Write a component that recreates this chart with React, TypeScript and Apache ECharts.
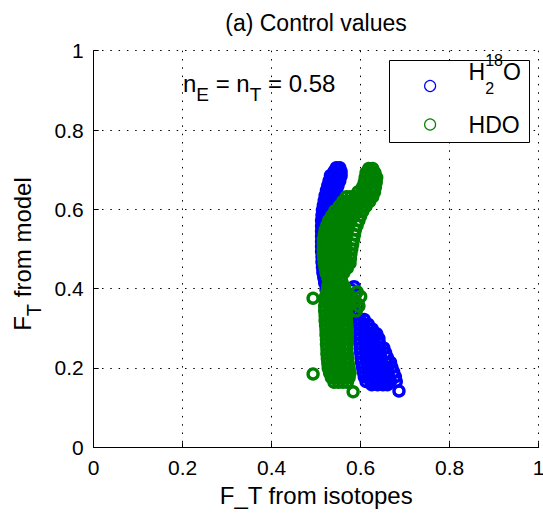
import React, { useEffect, useRef } from "react";
import * as echarts from "echarts";

// H2(18)O rows: [F_T from model, [F_T from isotopes values on that row]]
const BLUE_ROWS: [number, number[]][] = [
  [0.705, [0.545, 0.553]],
  [0.695, [0.54, 0.548, 0.556]],
  [0.685, [0.532, 0.54, 0.548, 0.556]],
  [0.672, [0.529, 0.537, 0.545, 0.553]],
  [0.66, [0.526, 0.534, 0.542, 0.549]],
  [0.648, [0.523, 0.531, 0.539, 0.546]],
  [0.635, [0.52, 0.528, 0.536, 0.544]],
  [0.622, [0.518, 0.526, 0.534, 0.542]],
  [0.61, [0.516, 0.524, 0.532, 0.54]],
  [0.598, [0.514, 0.522, 0.53, 0.538]],
  [0.585, [0.513, 0.521, 0.529]],
  [0.572, [0.512, 0.52, 0.528]],
  [0.558, [0.512, 0.52, 0.528]],
  [0.545, [0.512, 0.52, 0.528]],
  [0.532, [0.512, 0.52]],
  [0.519, [0.512, 0.52]],
  [0.506, [0.512, 0.52]],
  [0.493, [0.512, 0.52]],
  [0.48, [0.513, 0.521]],
  [0.467, [0.513, 0.521]],
  [0.454, [0.514, 0.522]],
  [0.441, [0.515, 0.525]],
  [0.428, [0.517, 0.528]],
  [0.415, [0.519, 0.53]],
  [0.405, [0.585]],
  [0.398, [0.522, 0.534, 0.578]],
  [0.385, [0.524, 0.538, 0.588]],
  [0.372, [0.526, 0.54, 0.57, 0.582]],
  [0.36, [0.528, 0.545, 0.565, 0.594]],
  [0.348, [0.56, 0.575]],
  [0.335, [0.572, 0.583]],
  [0.322, [0.59, 0.598, 0.608]],
  [0.31, [0.597, 0.607, 0.617]],
  [0.298, [0.597, 0.607, 0.618, 0.626]],
  [0.286, [0.597, 0.607, 0.618, 0.628, 0.636]],
  [0.274, [0.597, 0.608, 0.619, 0.63, 0.641]],
  [0.262, [0.598, 0.609, 0.62, 0.631, 0.642]],
  [0.25, [0.599, 0.61, 0.621, 0.632, 0.643, 0.652]],
  [0.238, [0.6, 0.611, 0.622, 0.633, 0.644, 0.656]],
  [0.226, [0.601, 0.612, 0.623, 0.634, 0.645, 0.66]],
  [0.214, [0.602, 0.613, 0.624, 0.635, 0.646, 0.657, 0.667]],
  [0.202, [0.604, 0.615, 0.626, 0.637, 0.648, 0.659, 0.67]],
  [0.19, [0.606, 0.617, 0.628, 0.639, 0.65, 0.661, 0.674]],
  [0.178, [0.608, 0.619, 0.63, 0.641, 0.652, 0.663, 0.678]],
  [0.166, [0.612, 0.623, 0.634, 0.645, 0.656, 0.667, 0.68]],
  [0.158, [0.625, 0.638, 0.65, 0.66]],
  [0.142, [0.686]],
];

// HDO rows: [F_T from model, [F_T from isotopes values on that row]]
const GREEN_ROWS: [number, number[]][] = [
  [0.703, [0.618, 0.627]],
  [0.692, [0.612, 0.622, 0.632]],
  [0.68, [0.61, 0.62, 0.63, 0.636]],
  [0.668, [0.608, 0.618, 0.628, 0.635]],
  [0.656, [0.604, 0.614, 0.624, 0.633]],
  [0.644, [0.594, 0.604, 0.614, 0.624, 0.631]],
  [0.632, [0.568, 0.578, 0.588, 0.598, 0.608, 0.618, 0.627]],
  [0.62, [0.56, 0.57, 0.58, 0.59, 0.6, 0.61, 0.62]],
  [0.608, [0.552, 0.562, 0.572, 0.582, 0.592, 0.602, 0.612]],
  [0.596, [0.542, 0.552, 0.562, 0.572, 0.582, 0.592, 0.605]],
  [0.584, [0.535, 0.545, 0.555, 0.565, 0.575, 0.585, 0.6]],
  [0.572, [0.528, 0.538, 0.548, 0.558, 0.568, 0.578, 0.596]],
  [0.56, [0.524, 0.534, 0.544, 0.554, 0.564, 0.574, 0.592]],
  [0.548, [0.52, 0.53, 0.54, 0.55, 0.56, 0.57, 0.588]],
  [0.536, [0.518, 0.528, 0.538, 0.548, 0.558, 0.568, 0.586]],
  [0.524, [0.516, 0.526, 0.536, 0.546, 0.556, 0.566, 0.584]],
  [0.512, [0.516, 0.526, 0.536, 0.546, 0.556, 0.566, 0.582]],
  [0.5, [0.516, 0.526, 0.536, 0.546, 0.556, 0.568, 0.58]],
  [0.488, [0.516, 0.526, 0.536, 0.546, 0.556, 0.566, 0.578]],
  [0.476, [0.517, 0.527, 0.537, 0.547, 0.557, 0.567, 0.577]],
  [0.464, [0.518, 0.528, 0.538, 0.548, 0.558, 0.568, 0.576]],
  [0.452, [0.52, 0.53, 0.54, 0.55, 0.56, 0.57]],
  [0.44, [0.522, 0.532, 0.542, 0.552, 0.562]],
  [0.428, [0.526, 0.536, 0.546, 0.556]],
  [0.416, [0.528, 0.538, 0.548, 0.558]],
  [0.404, [0.526, 0.536, 0.546, 0.556, 0.564]],
  [0.392, [0.524, 0.534, 0.544, 0.554, 0.566, 0.592]],
  [0.38, [0.521, 0.531, 0.541, 0.551, 0.561, 0.578, 0.6]],
  [0.376, [0.493]],
  [0.368, [0.52, 0.53, 0.54, 0.55, 0.56, 0.572, 0.588]],
  [0.356, [0.519, 0.529, 0.539, 0.549, 0.559, 0.569, 0.596]],
  [0.344, [0.519, 0.529, 0.539, 0.549, 0.559, 0.567, 0.59]],
  [0.332, [0.52, 0.53, 0.54, 0.55, 0.56, 0.568]],
  [0.32, [0.52, 0.53, 0.54, 0.55, 0.56, 0.568]],
  [0.308, [0.521, 0.531, 0.541, 0.551, 0.561, 0.569]],
  [0.296, [0.522, 0.532, 0.542, 0.552, 0.562, 0.57]],
  [0.284, [0.522, 0.532, 0.542, 0.552, 0.562, 0.57]],
  [0.272, [0.523, 0.533, 0.543, 0.553, 0.563, 0.57]],
  [0.26, [0.523, 0.533, 0.543, 0.553, 0.563, 0.569]],
  [0.248, [0.524, 0.534, 0.544, 0.554, 0.564, 0.569]],
  [0.236, [0.524, 0.534, 0.544, 0.554, 0.564, 0.57]],
  [0.224, [0.525, 0.535, 0.545, 0.555, 0.565, 0.571]],
  [0.212, [0.526, 0.536, 0.546, 0.556, 0.566, 0.572]],
  [0.2, [0.527, 0.537, 0.547, 0.557, 0.567, 0.574]],
  [0.188, [0.53, 0.54, 0.55, 0.56, 0.57, 0.576]],
  [0.185, [0.493]],
  [0.176, [0.534, 0.544, 0.554, 0.564, 0.574]],
  [0.164, [0.54, 0.55, 0.56, 0.57]],
  [0.14, [0.583]],
];

const SERIES_NAMES = ["H2 18O", "HDO"];
const SERIES_COLORS = ["#0000ff", "#008000"];
const AXIS_MIN = 0;
const AXIS_MAX = 1;
const AXIS_STEP = 0.2;
const TITLE = "(a) Control values";
const X_LABEL = "F_T from isotopes";
const ANNOTATION = "{m|n}{s|E}{m| = n}{s|T}{m| = 0.58}";
const Y_LABEL = "{m|F}{s|T}{m| from model}";

const FONT = "'Liberation Sans', Arial, Helvetica, sans-serif";

function rowsToPoints(rows: [number, number[]][]): [number, number][] {
  const out: [number, number][] = [];
  rows.forEach(([y, xs]) => xs.forEach((x) => out.push([x, y])));
  return out;
}

export default function App() {
  const ref = useRef<HTMLDivElement>(null);
  useEffect(() => {
    if (!ref.current) return;
    const chart = echarts.init(ref.current, undefined, { renderer: "svg" });
    const dotted = { color: "#000", width: 1, type: [1.5, 6.8] as any };
    const axisCommon = {
      type: "value" as const,
      min: AXIS_MIN,
      max: AXIS_MAX,
      interval: AXIS_STEP,
      axisLine: { show: true, onZero: false, lineStyle: { color: "#000", width: 1 } },
      axisTick: { show: true, inside: true, length: 5, lineStyle: { color: "#000" } },
      splitLine: { show: true, lineStyle: dotted },
      axisLabel: { color: "#000", fontSize: 21, fontFamily: FONT, margin: 10 },
    };
    const seriesData = [rowsToPoints(BLUE_ROWS), rowsToPoints(GREEN_ROWS)];
    const legendRich = {
      gap: { width: 28, lineHeight: 68, fontSize: 10 },
      gap2: { width: 28, lineHeight: 22, fontSize: 10 },
      m: { fontSize: 23, lineHeight: 22, padding: [8.5, 0, 0, 0], verticalAlign: "top", fontFamily: FONT, color: "#000" },
      sub: { fontSize: 16, lineHeight: 16, padding: [28, 0, 0, 0], verticalAlign: "top", width: 0, fontFamily: FONT, color: "#000" },
      sup: { fontSize: 16, lineHeight: 16, verticalAlign: "top", fontFamily: FONT, color: "#000" },
      h: { fontSize: 23, lineHeight: 22, fontFamily: FONT, color: "#000" },
    };
    const legendBase = {
      orient: "vertical",
      left: 419,
      padding: 5,
      itemWidth: 11,
      itemHeight: 11,
      selectedMode: false,
      z: 6,
      icon: "circle",
      formatter: (name: string) =>
        name === SERIES_NAMES[0] ? "{gap| }{m|H}{sub|2}{sup|18}{m|O}" : "{gap2| }{h|HDO}",
      textStyle: { color: "#000", fontFamily: FONT, rich: legendRich },
    };
    chart.setOption({
      animation: false,
      backgroundColor: "#fff",
      title: {
        text: TITLE,
        left: 316,
        top: 11,
        padding: 0,
        textAlign: "center",
        textStyle: { color: "#000", fontSize: 23, fontWeight: "normal", fontFamily: FONT },
      },
      grid: { left: 93.7, top: 50.7, width: 445, height: 396.6, outerBoundsMode: "none", containLabel: false },
      xAxis: {
        ...axisCommon,
        name: X_LABEL,
        nameLocation: "middle",
        nameGap: 36,
        nameTextStyle: { color: "#000", fontSize: 24, fontFamily: FONT },
      },
      yAxis: { ...axisCommon },
      legend: SERIES_NAMES.map((n, i) => ({
        ...legendBase,
        top: i === 0 ? 47 : 108,
        data: [
          {
            name: n,
            itemStyle: { color: "rgba(0,0,0,0)", borderColor: SERIES_COLORS[i], borderWidth: 1.2 },
          },
        ],
      })),
      graphic: [
        {
          type: "rect",
          z: 5,
          shape: { x: 389.5, y: 60.5, width: 140, height: 82 },
          style: { fill: "#fff", stroke: "#000", lineWidth: 1 },
        },
        {
          type: "text",
          z: 5,
          x: 183,
          y: 71,
          style: {
            text: ANNOTATION,
            fill: "#000",
            verticalAlign: "top",
            rich: {
              m: { fontSize: 24, lineHeight: 26, verticalAlign: "top", fontFamily: FONT, fill: "#000" },
              s: { fontSize: 19, lineHeight: 19, padding: [13.5, 0, 0, 0], verticalAlign: "top", fontFamily: FONT, fill: "#000" },
            },
          },
        },
        {
          type: "text",
          z: 5,
          x: 23,
          y: 254,
          rotation: Math.PI / 2,
          style: {
            text: Y_LABEL,
            fill: "#000",
            align: "center",
            verticalAlign: "middle",
            rich: {
              m: { fontSize: 24, lineHeight: 26, verticalAlign: "top", fontFamily: FONT, fill: "#000" },
              s: { fontSize: 20, lineHeight: 20, padding: [14, 0, 0, 0], verticalAlign: "top", fontFamily: FONT, fill: "#000" },
            },
          },
        },
      ],
      series: SERIES_NAMES.map((n, i) => ({
        name: n,
        type: "scatter",
        symbol: "circle",
        symbolSize: 10,
        data: seriesData[i],
        itemStyle: { color: "rgba(0,0,0,0)", borderColor: SERIES_COLORS[i], borderWidth: 3.4, opacity: 1 },
        emphasis: { disabled: true },
      })),
    });
    return () => chart.dispose();
  }, []);
  return <div ref={ref} style={{ position: "fixed", left: 0, top: 0, width: 543, height: 513 }} />;
}
